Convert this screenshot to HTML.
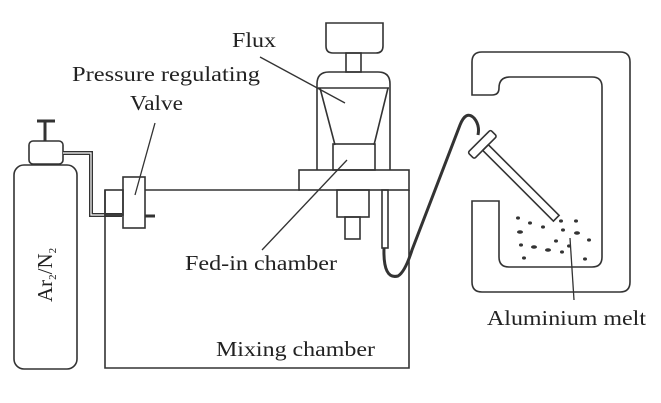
<!DOCTYPE html>
<html><head><style>
body{margin:0;background:#fff}
svg{display:block}
text{font-family:"Liberation Serif",serif;fill:#222;font-size:21px}
</style></head><body>
<svg width="661" height="403" viewBox="0 0 661 403" fill="none" stroke="#333" stroke-width="1.6">
<rect x="14" y="165" width="63" height="204" rx="10"/>
<rect x="29" y="141" width="34" height="23" rx="4"/>
<line x1="45" y1="121" x2="45" y2="141" stroke-width="3"/>
<line x1="37" y1="121" x2="55" y2="121" stroke-width="3"/>
<path d="M63 153 H91 V215 H122" stroke-width="4"/>
<path d="M63 153 H91 V215 H122" stroke="#fff" stroke-width="1.2"/>
<path d="M105 190 V368 H409 V190"/>
<rect x="105" y="190" width="18" height="25"/>
<line x1="145" y1="190" x2="300" y2="190"/>
<rect x="123" y="177" width="22" height="51"/>
<line x1="145" y1="216" x2="155" y2="216" stroke-width="3"/>
<rect x="299" y="170" width="110" height="20"/>
<path d="M317 170 V84 Q317 72 329 72 H378 Q390 72 390 84 V170"/>
<line x1="318" y1="88" x2="389" y2="88"/>
<path d="M320 88 L335 145 M388 88 L374 145"/>
<rect x="333" y="144" width="42" height="26"/>
<path d="M326 23 H383 V46 Q383 53 376 53 H333 Q326 53 326 46 Z"/>
<rect x="346" y="53" width="15" height="19"/>
<rect x="337" y="190" width="32" height="27"/>
<rect x="345" y="217" width="15" height="22"/>
<rect x="382" y="190" width="6" height="58"/>
<path d="M384 248 Q383 280 398 276 Q405 272 412 250 L460 125 Q466 110 474 118 Q480 125 478 135" stroke-width="3"/>
<path d="M472 95 V62 Q472 52 482 52 H620 Q630 52 630 62 V282 Q630 292 620 292 H482 Q472 292 472 282 V201 H499 V257 Q499 267 509 267 H592 Q602 267 602 257 V87 Q602 77 592 77 H510 Q499 77 499 88 Q499 95 492 95 Z"/>
<g transform="translate(482,144) rotate(45)">
<rect x="-4" y="-16" width="9" height="32" rx="2"/>
<rect x="5" y="-4" width="100" height="8"/>
</g>
<g fill="#333" stroke="none">
<ellipse cx="518" cy="218" rx="2" ry="1.6"/><ellipse cx="530" cy="223" rx="2" ry="1.6"/><ellipse cx="543" cy="227" rx="2" ry="1.6"/>
<ellipse cx="561" cy="221" rx="2" ry="1.6"/><ellipse cx="576" cy="221" rx="2" ry="1.6"/><ellipse cx="520" cy="232" rx="3" ry="1.8"/>
<ellipse cx="563" cy="230" rx="2" ry="1.6"/><ellipse cx="577" cy="233" rx="3" ry="1.8"/><ellipse cx="556" cy="241" rx="2" ry="1.6"/>
<ellipse cx="521" cy="245" rx="2" ry="1.6"/><ellipse cx="534" cy="247" rx="3" ry="1.8"/><ellipse cx="548" cy="250" rx="3" ry="1.8"/>
<ellipse cx="569" cy="246" rx="2" ry="1.6"/><ellipse cx="589" cy="240" rx="2" ry="1.6"/><ellipse cx="562" cy="252" rx="2" ry="1.6"/>
<ellipse cx="524" cy="258" rx="2" ry="1.6"/><ellipse cx="585" cy="259" rx="2" ry="1.6"/>
</g>
<g stroke-width="1.3">
<line x1="260" y1="57" x2="345" y2="103"/>
<line x1="155" y1="123" x2="135" y2="195"/>
<line x1="262" y1="250" x2="347" y2="160"/>
<line x1="570" y1="238" x2="574" y2="300"/>
</g>
<g stroke="none">
<text x="232" y="47" textLength="44" lengthAdjust="spacingAndGlyphs">Flux</text>
<text x="72" y="81" textLength="188" lengthAdjust="spacingAndGlyphs">Pressure regulating</text>
<text x="130" y="110" textLength="53" lengthAdjust="spacingAndGlyphs">Valve</text>
<text x="185" y="270" textLength="152" lengthAdjust="spacingAndGlyphs">Fed-in chamber</text>
<text x="216" y="356" textLength="159" lengthAdjust="spacingAndGlyphs">Mixing chamber</text>
<text x="487" y="325" textLength="159" lengthAdjust="spacingAndGlyphs">Aluminium melt</text>
<text transform="translate(52,302) rotate(-90)">Ar<tspan font-size="11" dy="4">2</tspan><tspan dy="-4">/N</tspan><tspan font-size="11" dy="4">2</tspan></text>
</g>
</svg>
</body></html>
